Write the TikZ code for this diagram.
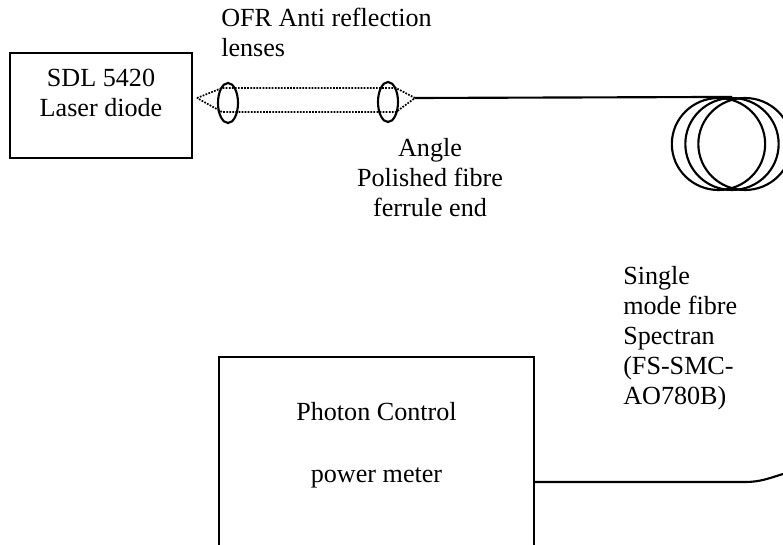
\documentclass[tikz,border=0pt]{standalone}
\usepackage{fontspec}
\setmainfont{Liberation Serif}
\usetikzlibrary{shapes.geometric, positioning}

\begin{document}
\begin{tikzpicture}[x=0.75pt, y=-0.75pt,
        box/.style={draw, rectangle, line width=1.3pt, inner sep=0pt},
        lens/.style={draw, ellipse, line width=1.6pt, inner sep=0pt, minimum width=15pt, minimum height=30pt},
        coil/.style={draw, ellipse, line width=1.6pt, inner sep=0pt, minimum width=70pt, minimum height=69pt},
        beam/.style={densely dotted, line width=1.3pt},
        fibre/.style={line width=1.6pt},
        label/.style={font=\fontsize{19.6}{22.6}\selectfont, inner sep=0pt, anchor=base}]
        \path[use as bounding box, clip] (0,0) rectangle (783,545);
        % Nodes
        \node[box, minimum width=136.5pt, minimum height=78.75pt] (Laser) at (101,105.5) {};
        \node[label, align=center] (LaserText) at (101,117) {SDL 5420\\Laser diode};
        \node[lens] (LensA) at (228,103) {};
        \node[lens] (LensB) at (388,102) {};
        \node[coil] (CoilA) at (718.5,144) {};
        \node[coil] (CoilB) at (732,144) {};
        \node[coil] (CoilC) at (745,144) {};
        \node[box, minimum width=236pt, minimum height=187.5pt] (Meter) at (376.5,482) {};
        % Beam corners
        \coordinate (TipA) at (197,98);
        \coordinate (TipB) at (415,98);
        \coordinate (TopA) at (222,88);
        \coordinate (TopB) at (396,88);
        \coordinate (LowA) at (222,112);
        \coordinate (LowB) at (396,112);
        \coordinate (FibreEnd) at (783,474);
        \coordinate (FibreBend) at (745,482);
        % Labels
        \node[label, align=left, anchor=base west] (LensText) at (221,57) {OFR Anti reflection\\lenses};
        \node[label, align=center] (AngleText) at (430,217) {Angle\\Polished fibre\\ferrule end};
        \node[label, align=left, anchor=base west] (FibreText) at (623,405) {Single\\mode fibre\\Spectran\\(FS-SMC-\\AO780B)};
        \node[label] (PhotonText) at (376.5,421) {Photon Control};
        \node[label] (PowerText) at (376.5,483) {power meter};
        % Connectors
        \draw[beam] (TipA) -- (TopA) -- (TopB) -- (TipB) -- (LowB) -- (LowA) -- cycle;
        \draw[fibre] (TipB) -- (CoilB.north);
        \draw[fibre] (Meter.east) -- (FibreBend) to[out=0, in=197] (FibreEnd);
    \end{tikzpicture}
\end{document}
